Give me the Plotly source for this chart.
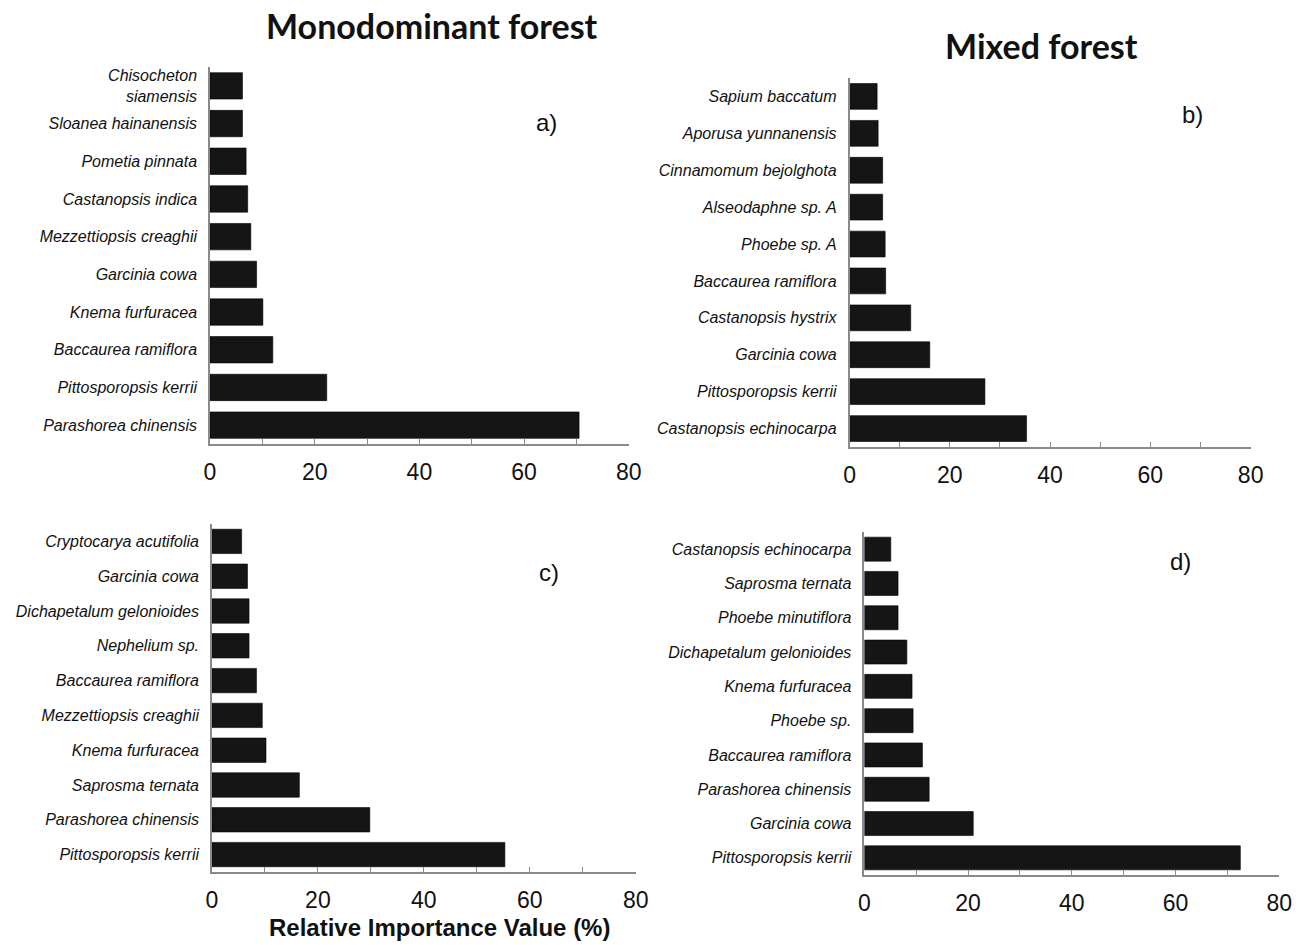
import plotly.graph_objects as go

# Top ten species by Relative Importance Value (%), listed top to bottom
species_a = ["Chisocheton<br>siamensis", "Sloanea hainanensis", "Pometia pinnata",
             "Castanopsis indica", "Mezzettiopsis creaghii", "Garcinia cowa",
             "Knema furfuracea", "Baccaurea ramiflora", "Pittosporopsis kerrii",
             "Parashorea chinensis"]
riv_a = [6.2, 6.2, 6.9, 7.2, 7.8, 8.9, 10.1, 12.0, 22.3, 70.5]

species_b = ["Sapium baccatum", "Aporusa yunnanensis", "Cinnamomum bejolghota",
             "Alseodaphne sp. A", "Phoebe sp. A", "Baccaurea ramiflora",
             "Castanopsis hystrix", "Garcinia cowa", "Pittosporopsis kerrii",
             "Castanopsis echinocarpa"]
riv_b = [5.5, 5.7, 6.6, 6.6, 7.1, 7.2, 12.2, 16.0, 27.0, 35.3]

species_c = ["Cryptocarya acutifolia", "Garcinia cowa", "Dichapetalum gelonioides",
             "Nephelium sp.", "Baccaurea ramiflora", "Mezzettiopsis creaghii",
             "Knema furfuracea", "Saprosma ternata", "Parashorea chinensis",
             "Pittosporopsis kerrii"]
riv_c = [5.6, 6.7, 7.0, 7.0, 8.4, 9.5, 10.2, 16.5, 29.8, 55.3]

species_d = ["Castanopsis echinocarpa", "Saprosma ternata", "Phoebe minutiflora",
             "Dichapetalum gelonioides", "Knema furfuracea", "Phoebe sp.",
             "Baccaurea ramiflora", "Parashorea chinensis", "Garcinia cowa",
             "Pittosporopsis kerrii"]
riv_d = [5.1, 6.5, 6.5, 8.2, 9.2, 9.4, 11.2, 12.5, 21.0, 72.5]

x_ticks = [0, 10, 20, 30, 40, 50, 60, 70, 80]
x_tick_text = ["0", "", "20", "", "40", "", "60", "", "80"]

panels = [
    (species_a, riv_a, "a)"),
    (species_b, riv_b, "b)"),
    (species_c, riv_c, "c)"),
    (species_d, riv_d, "d)"),
]

W, H = 1307, 945
# plot-area boxes in pixels: (left, right, top, bottom)
boxes = [
    (207, 632, 67, 444),
    (856, 1263, 78, 447),
    (209, 639, 524, 872),
    (871, 1292, 532, 875),
]
label_pos = [(548, 122), (1204, 115), (551, 572), (1192, 561)]

AXIS_GREY = "#8a8a8a"
sans = "Liberation Sans, Arial, sans-serif"

fig = go.Figure()
layout = dict(
    width=W, height=H,
    margin=dict(l=0, r=0, t=0, b=0),
    paper_bgcolor="white", plot_bgcolor="white",
    showlegend=False,
    bargap=0.3,
)
annotations = []

for i, ((names, vals, tag), (l, r, t, b), (lx, ly)) in enumerate(zip(panels, boxes, label_pos)):
    n = "" if i == 0 else str(i + 1)
    fig.add_trace(go.Bar(
        x=vals, y=names, orientation="h",
        xaxis="x" + n, yaxis="y" + n,
        marker=dict(color="#151515", line=dict(color="#000000", width=0.6)),
        width=0.7, hoverinfo="x+y",
    ))
    layout["xaxis" + n] = dict(
        domain=[l / W, r / W], anchor="y" + n,
        range=[0, 80], tickmode="array", tickvals=x_ticks, ticktext=x_tick_text,
        ticks="inside", ticklen=5, tickwidth=1, tickcolor=AXIS_GREY,
        showline=True, linecolor=AXIS_GREY, linewidth=1.5,
        showgrid=False, zeroline=False,
        tickfont=dict(family=sans, size=23, color="#111111"),
        ticklabelstandoff=7,
    )
    layout["yaxis" + n] = dict(
        domain=[1 - b / H, 1 - t / H], anchor="x" + n,
        type="category", autorange="reversed",
        showline=True, linecolor=AXIS_GREY, linewidth=1.5,
        ticks="", showgrid=False, zeroline=False,
        tickfont=dict(family=sans, size=16, color="#111111", style="italic"),
        ticklabelstandoff=8,
    )
    annotations.append(dict(
        x=lx / W, y=1 - ly / H, xref="paper", yref="paper",
        text=tag, showarrow=False, xanchor="center", yanchor="middle",
        font=dict(family=sans, size=24, color="#111111"),
    ))

annotations += [
    dict(x=432 / W, y=1 - 25 / H, xref="paper", yref="paper",
         text="<b>Monodominant forest</b>", showarrow=False,
         xanchor="center", yanchor="middle",
         font=dict(family="Lato, Open Sans, sans-serif", size=34, color="#111111")),
    dict(x=1051 / W, y=1 - 45 / H, xref="paper", yref="paper",
         text="<b>Mixed forest</b>", showarrow=False,
         xanchor="center", yanchor="middle",
         font=dict(family="Lato, Open Sans, sans-serif", size=34, color="#111111")),
    dict(x=440 / W, y=1 - 927 / H, xref="paper", yref="paper",
         text="<b>Relative Importance Value (%)</b>", showarrow=False,
         xanchor="center", yanchor="middle",
         font=dict(family=sans, size=24, color="#111111")),
]
layout["annotations"] = annotations
fig.update_layout(**layout)

fig.write_html("out.html")
